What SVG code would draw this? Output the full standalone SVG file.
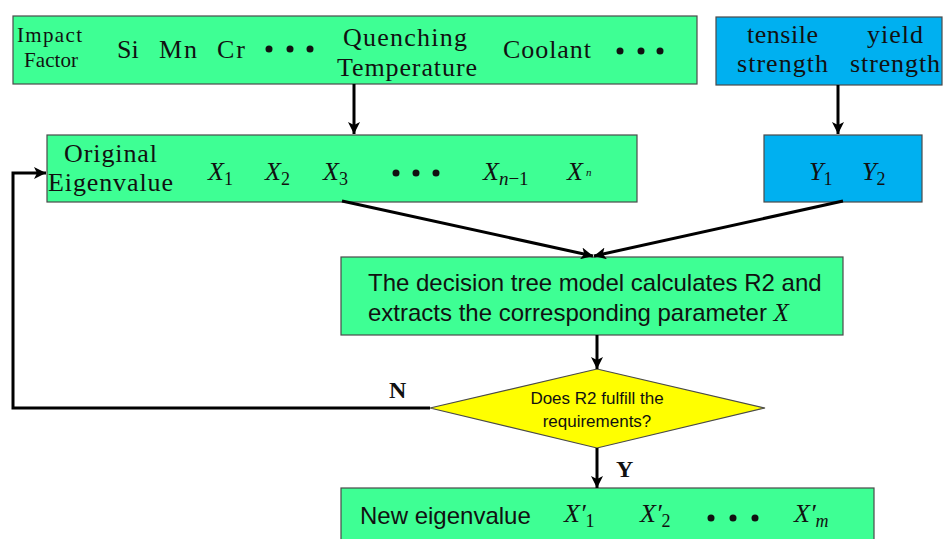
<svg xmlns="http://www.w3.org/2000/svg" width="944" height="539" viewBox="0 0 944 539">
<style>
.g{fill:#3EFF94;stroke:#4a4a4a;stroke-width:1.2}
.b{fill:#00B0F0;stroke:#4a4a4a;stroke-width:1.2}
.y{fill:#FFFF00;stroke:#4a4a4a;stroke-width:1.2}
.s{font-family:"Liberation Serif",serif;fill:#111}
.m{font-family:"Liberation Serif",serif;font-style:italic;fill:#111}
.sub{font-style:normal}
.sans{font-family:"Liberation Sans",Arial,sans-serif;fill:#111}
.lbl{font-family:"Liberation Serif",serif;font-weight:bold;font-size:24px;fill:#111}
.c{fill:none;stroke:#000;stroke-width:3}
.dot{fill:#111}
</style>
<defs>
<marker id="ah" markerUnits="userSpaceOnUse" markerWidth="14" markerHeight="12" refX="12" refY="6" orient="auto">
<path d="M0,0 L12,6 L0,12 L3,6 Z" fill="#000"/>
</marker>
</defs>

<g id="impact-factors">
<rect class="g" x="13" y="16" width="684" height="68"/>
<text class="s" font-size="21" x="17" y="42" textLength="65">Impact</text>
<text class="s" font-size="21" x="24" y="67" textLength="54">Factor</text>
<text class="s" font-size="26" x="117" y="58">Si</text>
<text class="s" font-size="26" x="159" y="58" textLength="38">Mn</text>
<text class="s" font-size="26" x="217" y="58" textLength="28">Cr</text>
<circle class="dot" cx="269" cy="49" r="3.5"/>
<circle class="dot" cx="290" cy="49" r="3.5"/>
<circle class="dot" cx="310" cy="49" r="3.5"/>
<text class="s" font-size="26" x="343" y="46" textLength="124">Quenching</text>
<text class="s" font-size="26" x="337" y="76" textLength="140">Temperature</text>
<text class="s" font-size="26" x="503" y="58" textLength="88">Coolant</text>
<circle class="dot" cx="620" cy="51" r="3.5"/>
<circle class="dot" cx="641" cy="51" r="3.5"/>
<circle class="dot" cx="660" cy="51" r="3.5"/>
</g>

<g id="strength">
<rect class="b" x="716" y="17" width="226" height="68"/>
<text class="s" font-size="26" x="747" y="43" textLength="71">tensile</text>
<text class="s" font-size="26" x="737" y="72" textLength="91">strength</text>
<text class="s" font-size="26" x="867" y="43" textLength="56">yield</text>
<text class="s" font-size="26" x="850" y="72" textLength="90">strength</text>
</g>

<g id="original-eigenvalue">
<rect class="g" x="47" y="135" width="590" height="67"/>
<text class="s" font-size="26" x="64" y="162" textLength="93">Original</text>
<text class="s" font-size="26" x="48" y="191" textLength="125">Eigenvalue</text>
<text class="m" font-size="26" x="208" y="180">X<tspan class="sub" font-size="18" dy="5">1</tspan></text>
<text class="m" font-size="26" x="265" y="180">X<tspan class="sub" font-size="18" dy="5">2</tspan></text>
<text class="m" font-size="26" x="323" y="180">X<tspan class="sub" font-size="18" dy="5">3</tspan></text>
<circle class="dot" cx="396" cy="173" r="3.5"/>
<circle class="dot" cx="416" cy="173" r="3.5"/>
<circle class="dot" cx="436" cy="173" r="3.5"/>
<text class="m" font-size="26" x="483" y="180">X<tspan font-size="19" dy="5">n</tspan><tspan class="sub" font-size="19">−1</tspan></text>
<text class="m" font-size="26" x="567" y="180">X<tspan font-size="11" dx="3" dy="-4">n</tspan></text>
</g>

<g id="targets">
<rect class="b" x="764" y="135" width="158" height="67"/>
<text class="m" font-size="26" x="809" y="180">Y<tspan class="sub" font-size="18" dy="5">1</tspan></text>
<text class="m" font-size="26" x="862" y="180">Y<tspan class="sub" font-size="18" dy="5">2</tspan></text>
</g>

<g id="decision-tree">
<rect class="g" x="341" y="257" width="502" height="78"/>
<text class="sans" font-size="24" x="368" y="291">The decision tree model calculates R2 and</text>
<text class="sans" font-size="24" x="368" y="321">extracts the corresponding parameter <tspan class="m" font-size="25">X</tspan></text>
</g>

<g id="check">
<polygon class="y" points="597,369 765,408 597,448 430,408"/>
<text class="sans" font-size="17" x="597" y="404" text-anchor="middle">Does R2 fulfill the</text>
<text class="sans" font-size="17" x="597" y="427" text-anchor="middle">requirements?</text>
</g>

<g id="new-eigenvalue">
<rect class="g" x="341" y="488" width="533" height="60"/>
<text class="sans" font-size="24" x="360" y="524">New eigenvalue</text>
<text class="m" font-size="26" x="564" y="522">X′<tspan class="sub" font-size="18" dy="5">1</tspan></text>
<text class="m" font-size="26" x="640" y="522">X′<tspan class="sub" font-size="18" dy="5">2</tspan></text>
<circle class="dot" cx="711" cy="518" r="3.5"/>
<circle class="dot" cx="733" cy="518" r="3.5"/>
<circle class="dot" cx="755" cy="518" r="3.5"/>
<text class="m" font-size="26" x="794" y="522">X′<tspan font-size="18" dy="5">m</tspan></text>
</g>

<g id="connectors">
<line class="c" x1="354" y1="84" x2="354" y2="134" marker-end="url(#ah)" stroke-width="2.5"/>
<line class="c" x1="838" y1="85" x2="838" y2="134" marker-end="url(#ah)" stroke-width="2.5"/>
<line class="c" x1="342" y1="201" x2="593" y2="256" marker-end="url(#ah)"/>
<line class="c" x1="843" y1="201" x2="594" y2="256" marker-end="url(#ah)"/>
<line class="c" x1="597" y1="335" x2="597" y2="369" marker-end="url(#ah)" stroke-width="2.5"/>
<polyline class="c" points="430,408 13,408 13,173 46,173" marker-end="url(#ah)"/>
<line class="c" x1="597" y1="448" x2="597" y2="488" marker-end="url(#ah)" stroke-width="2.5"/>
<text class="lbl" x="389" y="398">N</text>
<text class="lbl" x="616" y="477">Y</text>
</g>
</svg>
